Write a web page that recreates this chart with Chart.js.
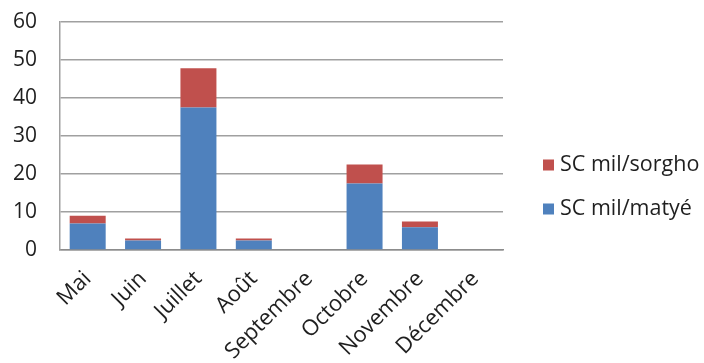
<!DOCTYPE html>
<html>
<head>
<meta charset="utf-8">
<script src="https://cdn.jsdelivr.net/npm/chart.js@4/dist/chart.umd.min.js"></script>
<style>
  html, body { margin: 0; padding: 0; background: #fff; }
  #wrap { width: 704px; height: 363px; position: relative; }
</style>
</head>
<body>
<div id="wrap"><canvas id="c" width="704" height="363"></canvas></div>
<script>
// Monthly values per series
const months = ['Mai', 'Juin', 'Juillet', 'Août', 'Septembre', 'Octobre', 'Novembre', 'Décembre'];
const milMatye = [7, 2.5, 37.5, 2.5, 0, 17.5, 6, 0];
const milSorgho = [2, 0.5, 10.3, 0.5, 0, 5, 1.5, 0];
const yTicks = [0, 10, 20, 30, 40, 50, 60];

const BLUE = '#4F81BD';
const RED = '#C0504D';
const TEXT = '#1f1f1f';
const FONT = "'Open Sans', 'DejaVu Sans', sans-serif";

// Legend drawn on the right, sorgho first (top of the stack)
const sideLegend = {
  id: 'sideLegend',
  afterDraw(chart) {
    const ctx = chart.ctx;
    const items = chart.data.datasets.slice().reverse();
    ctx.save();
    ctx.font = '21.5px ' + FONT;
    ctx.textBaseline = 'middle';
    ctx.textAlign = 'left';
    items.forEach((ds, i) => {
      const cy = 165 + i * 44;
      ctx.fillStyle = ds.backgroundColor;
      ctx.fillRect(543, cy - 5.5, 11, 11);
      ctx.fillStyle = TEXT;
      ctx.fillText(ds.label, 560, cy);
    });
    ctx.restore();
  }
};

new Chart(document.getElementById('c'), {
  type: 'bar',
  data: {
    labels: months,
    datasets: [
      { label: 'SC mil/matyé', data: milMatye, backgroundColor: BLUE, borderWidth: 0 },
      { label: 'SC mil/sorgho', data: milSorgho, backgroundColor: RED, borderWidth: 0 }
    ]
  },
  options: {
    responsive: false,
    animation: false,
    devicePixelRatio: 1,
    layout: { padding: { top: 22, right: 201, left: 0, bottom: 0 } },
    datasets: { bar: { categoryPercentage: 1, barPercentage: 0.65 } },
    plugins: { legend: { display: false }, tooltip: { enabled: false } },
    scales: {
      x: {
        stacked: true,
        grid: { display: false },
        border: { display: true, color: '#8c8c8c', width: 1.5 },
        ticks: {
          color: TEXT,
          font: { family: FONT, size: 22 },
          minRotation: 45,
          maxRotation: 45,
          padding: 8
        },
        afterFit(scale) { scale.height = 113; }
      },
      y: {
        stacked: true,
        min: 0,
        max: 60,
        afterBuildTicks(scale) { scale.ticks = yTicks.map(v => ({ value: v })); },
        grid: { color: '#a0a0a0', lineWidth: 1.5, drawTicks: false },
        border: { display: true, color: '#a0a0a0', width: 1.5 },
        ticks: {
          color: TEXT,
          font: { family: FONT, size: 21 },
          padding: 23
        },
        afterFit(scale) {
          scale.width = 60;
          scale.paddingTop = 0;
          scale.paddingBottom = 0;
        }
      }
    }
  },
  plugins: [sideLegend]
});
</script>
</body>
</html>
